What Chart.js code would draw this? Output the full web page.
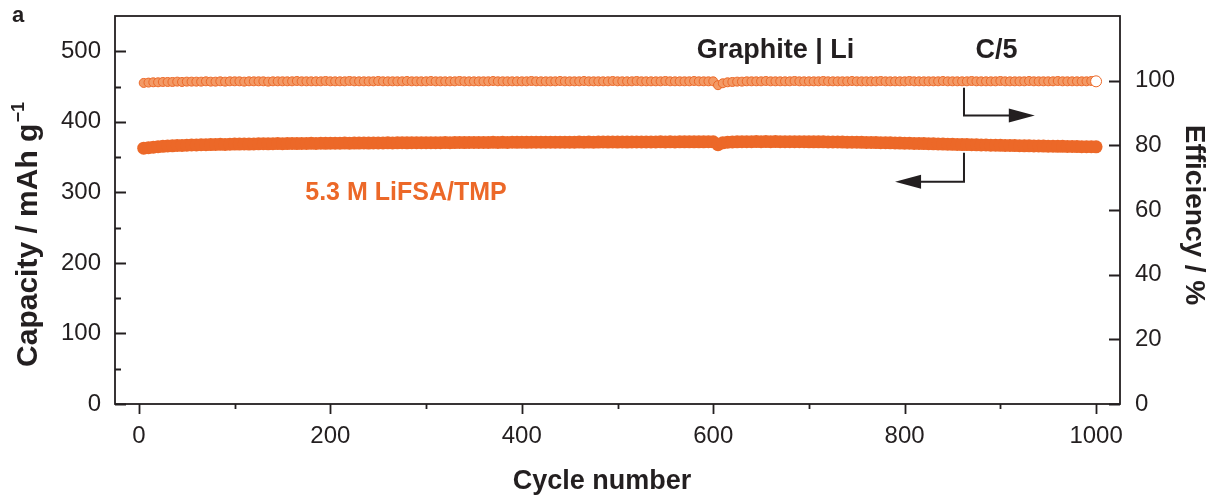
<!DOCTYPE html>
<html>
<head>
<meta charset="utf-8">
<script src="https://cdn.jsdelivr.net/npm/chart.js@4.4.1/dist/chart.umd.min.js"></script>
<style>
    html, body { margin: 0; padding: 0; background: #ffffff; }
    #wrap { width: 1222px; height: 497px; position: relative; }
</style>
</head>
<body>
<div id="wrap"><canvas id="cycleChart" width="1222" height="497"></canvas></div>
<script>
// cycle number of every plotted point (one marker per 5 cycles)
const cycles = [
    5, 10, 15, 20, 25, 30, 35, 40, 45, 50, 55, 60, 65, 70, 75, 80, 85, 90, 95, 100,
    105, 110, 115, 120, 125, 130, 135, 140, 145, 150, 155, 160, 165, 170, 175, 180, 185, 190, 195, 200,
    205, 210, 215, 220, 225, 230, 235, 240, 245, 250, 255, 260, 265, 270, 275, 280, 285, 290, 295, 300,
    305, 310, 315, 320, 325, 330, 335, 340, 345, 350, 355, 360, 365, 370, 375, 380, 385, 390, 395, 400,
    405, 410, 415, 420, 425, 430, 435, 440, 445, 450, 455, 460, 465, 470, 475, 480, 485, 490, 495, 500,
    505, 510, 515, 520, 525, 530, 535, 540, 545, 550, 555, 560, 565, 570, 575, 580, 585, 590, 595, 600,
    605, 610, 615, 620, 625, 630, 635, 640, 645, 650, 655, 660, 665, 670, 675, 680, 685, 690, 695, 700,
    705, 710, 715, 720, 725, 730, 735, 740, 745, 750, 755, 760, 765, 770, 775, 780, 785, 790, 795, 800,
    805, 810, 815, 820, 825, 830, 835, 840, 845, 850, 855, 860, 865, 870, 875, 880, 885, 890, 895, 900,
    905, 910, 915, 920, 925, 930, 935, 940, 945, 950, 955, 960, 965, 970, 975, 980, 985, 990, 995, 1000
];

// discharge capacity, mAh g-1
const capacity = [
    362.6, 363.4, 364.1, 364.8, 365.2, 365.7, 366.0, 366.4, 366.6, 366.9, 367.1, 367.2, 367.5, 367.6, 367.8, 367.9, 368.1, 368.0, 368.3, 368.4,
    368.5, 368.6, 368.5, 368.7, 368.8, 368.9, 368.8, 369.0, 369.1, 369.0, 369.2, 369.3, 369.2, 369.4, 369.3, 369.5, 369.4, 369.6, 369.5, 369.6,
    369.7, 369.6, 369.8, 369.7, 369.9, 369.8, 370.0, 369.9, 370.0, 370.1, 370.0, 370.2, 370.1, 370.2, 370.3, 370.2, 370.3, 370.4, 370.3, 370.4,
    370.5, 370.4, 370.5, 370.6, 370.5, 370.6, 370.7, 370.6, 370.7, 370.8, 370.7, 370.8, 370.7, 370.9, 370.8, 370.9, 370.8, 371.0, 370.9, 371.0,
    370.9, 371.0, 371.1, 371.0, 371.1, 371.0, 371.2, 371.1, 371.2, 371.1, 371.2, 371.3, 371.2, 371.3, 371.2, 371.3, 371.4, 371.3, 371.4, 371.3,
    371.4, 371.3, 371.4, 371.5, 371.4, 371.5, 371.4, 371.5, 371.6, 371.5, 371.6, 371.5, 371.6, 371.7, 371.6, 371.7, 371.6, 371.7, 371.8, 371.7,
    367.5, 370.2, 371.0, 371.5, 371.7, 371.8, 371.9, 371.8, 372.0, 371.9, 372.0, 371.9, 372.0, 371.9, 371.8, 371.9, 371.8, 371.9, 371.8, 371.7,
    371.7, 371.6, 371.6, 371.5, 371.4, 371.4, 371.3, 371.2, 371.1, 371.0, 370.9, 370.8, 370.7, 370.6, 370.5, 370.3, 370.2, 370.0, 369.9, 369.7,
    369.6, 369.4, 369.3, 369.1, 368.9, 368.8, 368.6, 368.5, 368.3, 368.1, 368.0, 367.8, 367.7, 367.5, 367.4, 367.2, 367.1, 366.9, 366.8, 366.7,
    366.5, 366.4, 366.3, 366.1, 366.0, 365.9, 365.8, 365.7, 365.6, 365.5, 365.4, 365.3, 365.2, 365.1, 365.0, 364.9, 364.8, 364.8, 364.7, 364.6
];

// coulombic efficiency, %
const efficiency = [
    99.3, 99.4, 99.5, 99.5, 99.6, 99.6, 99.6, 99.7, 99.6, 99.7, 99.7, 99.7, 99.7, 99.8, 99.7, 99.7, 99.8, 99.7, 99.8, 99.8,
    99.8, 99.7, 99.8, 99.8, 99.8, 99.8, 99.7, 99.8, 99.8, 99.8, 99.8, 99.8, 99.9, 99.8, 99.8, 99.8, 99.8, 99.8, 99.9, 99.8,
    99.8, 99.8, 99.8, 99.9, 99.8, 99.8, 99.8, 99.8, 99.8, 99.9, 99.8, 99.8, 99.8, 99.8, 99.8, 99.9, 99.8, 99.8, 99.8, 99.8,
    99.9, 99.8, 99.8, 99.8, 99.8, 99.8, 99.9, 99.8, 99.8, 99.8, 99.8, 99.8, 99.8, 99.9, 99.8, 99.8, 99.8, 99.8, 99.8, 99.8,
    99.8, 99.9, 99.8, 99.8, 99.8, 99.8, 99.8, 99.9, 99.8, 99.8, 99.8, 99.8, 99.9, 99.8, 99.8, 99.8, 99.8, 99.8, 99.9, 99.8,
    99.8, 99.8, 99.8, 99.9, 99.8, 99.8, 99.8, 99.8, 99.8, 99.9, 99.8, 99.8, 99.8, 99.8, 99.8, 99.9, 99.8, 99.8, 99.8, 99.8,
    98.6, 99.2, 99.5, 99.6, 99.7, 99.7, 99.8, 99.8, 99.8, 99.8, 99.9, 99.8, 99.8, 99.8, 99.8, 99.8, 99.9, 99.8, 99.8, 99.8,
    99.8, 99.8, 99.9, 99.8, 99.8, 99.8, 99.8, 99.8, 99.9, 99.8, 99.8, 99.8, 99.8, 99.8, 99.9, 99.8, 99.8, 99.8, 99.8, 99.8,
    99.9, 99.8, 99.8, 99.8, 99.8, 99.8, 99.8, 99.9, 99.8, 99.8, 99.8, 99.8, 99.8, 99.9, 99.8, 99.8, 99.8, 99.8, 99.8, 99.9,
    99.8, 99.8, 99.8, 99.8, 99.8, 99.9, 99.8, 99.8, 99.8, 99.8, 99.8, 99.9, 99.8, 99.8, 99.8, 99.8, 99.8, 99.8, 99.9, 99.8
];

const xTicks = [0, 200, 400, 600, 800, 1000];
const capTicks = [0, 100, 200, 300, 400, 500];
const effTicks = [0, 20, 40, 60, 80, 100];

const orange = '#ec6828';
const orangeLight = '#f39a66';
const ink = '#231f20';
const font = '"Liberation Sans", Arial, sans-serif';

// text labels and arrows, placed in data units
const labels = [
    { text: 'Graphite | Li', x: 665, y: 109.3, axis: 'y1', color: ink, size: 27 },
    { text: 'C/5', x: 896, y: 109.3, axis: 'y1', color: ink, size: 27 },
    { text: '5.3 M LiFSA/TMP', x: 279, y: 299, axis: 'y', color: orange, size: 25 }
];
const arrows = [
    { x: 862, from: 97.8, to: 89.2, tip: 936, axis: 'y1' },
    { x: 862, from: 356, to: 315, tip: 790, axis: 'y' }
];

const decor = {
    id: 'decor',
    afterDraw(chart) {
        const { ctx, chartArea: a, scales } = chart;
        const x = scales.x, y = scales.y, y1 = scales.y1;
        ctx.save();
        ctx.strokeStyle = ink;
        ctx.fillStyle = ink;
        ctx.lineWidth = 1.8;
        ctx.lineCap = 'butt';

        // tick marks: x outward, both y axes inward
        ctx.beginPath();
        for (let v = 0; v <= 1000; v += 100) {
            const px = Math.round(x.getPixelForValue(v)) + 0.5;
            ctx.moveTo(px, a.bottom);
            ctx.lineTo(px, a.bottom + (v % 200 === 0 ? 10 : 5));
        }
        for (let v = 0; v <= 500; v += 50) {
            const py = Math.round(y.getPixelForValue(v)) + 0.5;
            ctx.moveTo(a.left, py);
            ctx.lineTo(a.left + (v % 100 === 0 ? 11 : 6), py);
        }
        effTicks.forEach(v => {
            const py = Math.round(y1.getPixelForValue(v)) + 0.5;
            ctx.moveTo(a.right, py);
            ctx.lineTo(a.right - 11, py);
        });
        ctx.stroke();

        // frame
        ctx.strokeRect(a.left, a.top, a.right - a.left, a.bottom - a.top);

        // arrows
        ctx.lineWidth = 2;
        arrows.forEach(ar => {
            const sc = scales[ar.axis];
            const px = x.getPixelForValue(ar.x);
            const p0 = sc.getPixelForValue(ar.from);
            const p1 = sc.getPixelForValue(ar.to);
            const tip = x.getPixelForValue(ar.tip);
            const dir = tip > px ? 1 : -1;
            ctx.beginPath();
            ctx.moveTo(px, p0);
            ctx.lineTo(px, p1);
            ctx.lineTo(tip - dir * 20, p1);
            ctx.stroke();
            ctx.beginPath();
            ctx.moveTo(tip, p1);
            ctx.lineTo(tip - dir * 26, p1 - 7);
            ctx.lineTo(tip - dir * 26, p1 + 7);
            ctx.closePath();
            ctx.fill();
        });

        // annotations
        ctx.textAlign = 'center';
        ctx.textBaseline = 'middle';
        labels.forEach(l => {
            ctx.fillStyle = l.color;
            ctx.font = 'bold ' + l.size + 'px ' + font;
            ctx.fillText(l.text, x.getPixelForValue(l.x), scales[l.axis].getPixelForValue(l.y));
        });

        // panel letter
        ctx.fillStyle = ink;
        ctx.textAlign = 'left';
        ctx.textBaseline = 'alphabetic';
        ctx.font = 'bold 22px ' + font;
        ctx.fillText('a', 12, 22);

        // x title
        ctx.textAlign = 'center';
        ctx.font = 'bold 27px ' + font;
        ctx.fillText('Cycle number', 602, 489);

        // left title with superscript
        ctx.save();
        ctx.translate(37, 235);
        ctx.rotate(-Math.PI / 2);
        ctx.font = 'bold 30px ' + font;
        const main = 'Capacity / mAh g';
        const w1 = ctx.measureText(main).width;
        ctx.font = 'bold 18px ' + font;
        const sup = '\u22121';
        const w2 = ctx.measureText(sup).width;
        const start = -(w1 + w2) / 2;
        ctx.textAlign = 'left';
        ctx.font = 'bold 30px ' + font;
        ctx.fillText(main, start, 0);
        ctx.font = 'bold 18px ' + font;
        ctx.fillText(sup, start + w1 + 1, -13);
        ctx.restore();

        // right title
        ctx.save();
        ctx.translate(1186, 215);
        ctx.rotate(Math.PI / 2);
        ctx.textAlign = 'center';
        ctx.font = 'bold 28px ' + font;
        ctx.fillText('Efficiency / %', 0, 0);
        ctx.restore();

        ctx.restore();
    }
};

const tickFont = { family: font, size: 24 };
const plainLabel = v => String(v);

new Chart(document.getElementById('cycleChart').getContext('2d'), {
    type: 'line',
    data: {
        labels: cycles,
        datasets: [
            {
                label: 'Efficiency',
                data: cycles.map((c, i) => ({ x: c, y: efficiency[i] })),
                yAxisID: 'y1',
                showLine: false,
                pointRadius: ctx => ctx.dataIndex === cycles.length - 1 ? 5.5 : 4.5,
                pointBorderWidth: 1,
                pointBorderColor: orange,
                pointBackgroundColor: ctx => ctx.dataIndex === cycles.length - 1 ? '#ffffff' : orangeLight
            },
            {
                label: 'Capacity',
                data: cycles.map((c, i) => ({ x: c, y: capacity[i] })),
                yAxisID: 'y',
                showLine: false,
                pointRadius: 6.5,
                pointBorderWidth: 0,
                pointBackgroundColor: orange,
                pointBorderColor: orange
            }
        ]
    },
    options: {
        responsive: false,
        animation: false,
        events: [],
        layout: { padding: { top: 16, left: 0, right: 0, bottom: 0 } },
        plugins: {
            legend: { display: false },
            tooltip: { enabled: false }
        },
        scales: {
            x: {
                type: 'linear',
                min: -25,
                max: 1025,
                afterBuildTicks: s => { s.ticks = xTicks.map(v => ({ value: v })); },
                afterFit: s => { s.height = 93; s.paddingLeft = 0; s.paddingRight = 0; },
                grid: { display: false, drawTicks: false },
                border: { display: false },
                ticks: { font: tickFont, color: ink, padding: 18, maxRotation: 0, callback: plainLabel }
            },
            y: {
                position: 'left',
                min: 0,
                max: 550,
                afterBuildTicks: s => { s.ticks = capTicks.map(v => ({ value: v })); },
                afterFit: s => { s.width = 115; s.paddingTop = 0; s.paddingBottom = 0; },
                grid: { display: false, drawTicks: false },
                border: { display: false },
                ticks: { font: tickFont, color: ink, padding: 14, callback: plainLabel }
            },
            y1: {
                position: 'right',
                min: 0,
                max: 120,
                afterBuildTicks: s => { s.ticks = effTicks.map(v => ({ value: v })); },
                afterFit: s => { s.width = 102; s.paddingTop = 0; s.paddingBottom = 0; },
                grid: { display: false, drawTicks: false },
                border: { display: false },
                ticks: { font: tickFont, color: ink, padding: 15, callback: plainLabel }
            }
        }
    },
    plugins: [decor]
});
</script>
</body>
</html>
